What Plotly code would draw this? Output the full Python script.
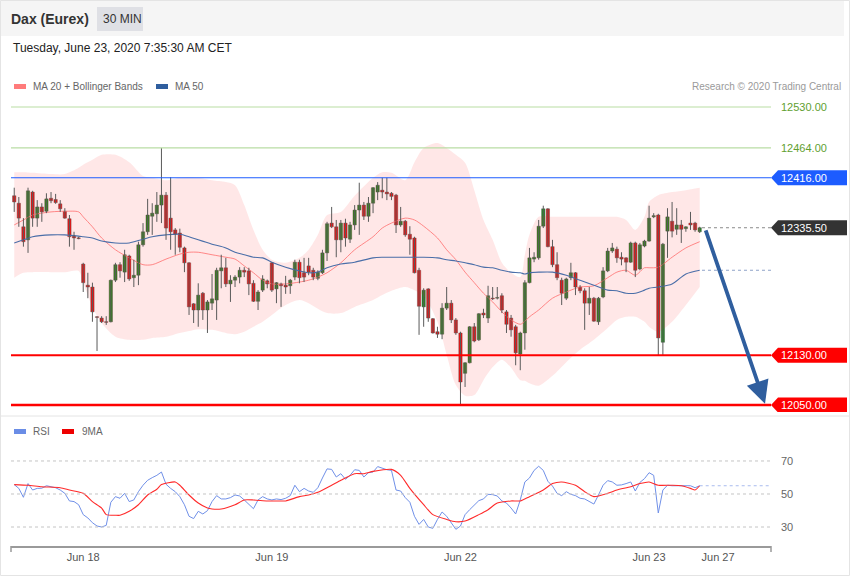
import plotly.graph_objects as go

W, H = 850, 576
FONT = "Liberation Sans, Arial, sans-serif"

# ---------------- data (30-min candles, Dax Eurex) ----------------
open_ = [12387, 12375, 12337, 12316, 12393, 12351, 12369, 12362, 12383, 12381,
         12374, 12362, 12350, 12322, 12319, 12277, 12243, 12240, 12192, 12190,
         12184, 12184, 12251, 12276, 12264, 12290, 12255, 12259, 12308, 12329,
         12354, 12358, 12372, 12388, 12351, 12332, 12327, 12303, 12279, 12213,
         12203, 12230, 12203, 12214, 12219, 12266, 12271, 12245, 12251, 12256,
         12267, 12266, 12246, 12217, 12235, 12250, 12279, 12237, 12245, 12243,
         12242, 12256, 12280, 12263, 12274, 12267, 12254, 12263, 12295, 12343,
         12337, 12316, 12343, 12317, 12340, 12364, 12372, 12354, 12375, 12393,
         12396, 12393, 12391, 12388, 12340, 12346, 12325, 12319, 12267, 12208,
         12237, 12189, 12168, 12164, 12206, 12214, 12187, 12166, 12101, 12118,
         12176, 12155, 12198, 12190, 12222, 12222, 12226, 12200, 12190, 12176,
         12132, 12166, 12247, 12285, 12287, 12338, 12366, 12305, 12276, 12251,
         12222, 12255, 12263, 12240, 12234, 12214, 12222, 12184, 12224, 12266,
         12298, 12301, 12288, 12287, 12280, 12311, 12269, 12306, 12314, 12353,
         12356, 12151, 12330, 12346, 12333, 12340, 12334, 12343, 12343, 12329]
high = [12400, 12385, 12351, 12400, 12395, 12380, 12375, 12391, 12393, 12390,
        12380, 12367, 12356, 12329, 12321, 12279, 12263, 12247, 12193, 12193,
        12193, 12252, 12279, 12280, 12300, 12292, 12284, 12313, 12343, 12382,
        12375, 12393, 12464, 12393, 12417, 12335, 12334, 12305, 12280, 12214,
        12246, 12232, 12219, 12261, 12271, 12292, 12287, 12259, 12259, 12272,
        12272, 12271, 12251, 12235, 12259, 12252, 12280, 12248, 12247, 12258,
        12253, 12284, 12284, 12287, 12287, 12271, 12267, 12300, 12345, 12369,
        12348, 12348, 12350, 12345, 12372, 12408, 12377, 12385, 12401, 12409,
        12416, 12416, 12393, 12390, 12369, 12348, 12338, 12321, 12271, 12238,
        12238, 12190, 12176, 12214, 12240, 12219, 12190, 12168, 12119, 12177,
        12182, 12198, 12205, 12242, 12240, 12240, 12230, 12203, 12195, 12179,
        12168, 12251, 12303, 12296, 12348, 12371, 12367, 12316, 12296, 12255,
        12255, 12279, 12264, 12243, 12238, 12240, 12224, 12224, 12272, 12303,
        12311, 12305, 12296, 12288, 12313, 12313, 12311, 12316, 12371, 12359,
        12358, 12311, 12367, 12377, 12367, 12348, 12338, 12361, 12345, 12337]
low = [12361, 12337, 12305, 12295, 12337, 12337, 12345, 12359, 12375, 12374,
       12361, 12350, 12305, 12300, 12317, 12232, 12222, 12184, 12137, 12182,
       12179, 12183, 12248, 12255, 12248, 12250, 12240, 12243, 12305, 12324,
       12324, 12345, 12343, 12316, 12300, 12292, 12296, 12264, 12195, 12182,
       12176, 12187, 12166, 12203, 12187, 12238, 12240, 12216, 12240, 12246,
       12256, 12227, 12216, 12203, 12232, 12238, 12232, 12214, 12208, 12229,
       12229, 12251, 12246, 12248, 12259, 12251, 12251, 12261, 12282, 12335,
       12288, 12296, 12305, 12311, 12332, 12324, 12348, 12345, 12359, 12380,
       12383, 12380, 12380, 12327, 12337, 12321, 12292, 12262, 12163, 12176,
       12184, 12165, 12158, 12156, 12203, 12182, 12163, 12050, 12079, 12117,
       12151, 12153, 12190, 12182, 12219, 12220, 12198, 12166, 12160, 12114,
       12106, 12139, 12246, 12280, 12284, 12335, 12304, 12272, 12251, 12211,
       12219, 12251, 12227, 12230, 12171, 12195, 12184, 12179, 12222, 12264,
       12295, 12279, 12275, 12264, 12279, 12256, 12267, 12304, 12313, 12351,
       12130, 12130, 12287, 12320, 12324, 12311, 12329, 12332, 12329, 12327]
close = [12377, 12351, 12313, 12395, 12351, 12369, 12361, 12382, 12379, 12376,
         12366, 12351, 12321, 12319, 12318, 12247, 12240, 12200, 12191, 12184,
         12183, 12251, 12276, 12266, 12292, 12253, 12259, 12308, 12329, 12356,
         12359, 12372, 12388, 12335, 12329, 12325, 12304, 12279, 12208, 12203,
         12227, 12203, 12216, 12221, 12267, 12271, 12245, 12251, 12256, 12267,
         12264, 12245, 12217, 12232, 12253, 12245, 12235, 12247, 12242, 12240,
         12251, 12280, 12255, 12256, 12264, 12256, 12264, 12295, 12342, 12337,
         12316, 12343, 12319, 12340, 12364, 12372, 12354, 12375, 12400, 12404,
         12393, 12390, 12386, 12340, 12346, 12324, 12317, 12263, 12209, 12235,
         12190, 12166, 12164, 12206, 12214, 12187, 12166, 12087, 12118, 12176,
         12153, 12197, 12195, 12226, 12221, 12223, 12203, 12180, 12171, 12134,
         12166, 12247, 12287, 12288, 12338, 12366, 12305, 12276, 12255, 12230,
         12253, 12263, 12240, 12234, 12214, 12222, 12185, 12222, 12266, 12298,
         12303, 12287, 12285, 12280, 12311, 12267, 12308, 12314, 12351, 12355,
         12158, 12309, 12353, 12330, 12340, 12333, 12337, 12340, 12332, 12335.5]

# Bollinger band (20) and moving averages read at sample candles
band_idx = [0, 2, 4, 8, 11, 14, 15, 17, 19, 22, 25, 28, 30, 33, 36, 38, 40, 43, 46, 48,
            50, 52, 54, 56, 59, 62, 64, 66, 68, 71, 74, 78, 80, 82, 85, 87, 89, 92, 94, 96,
            98, 100, 102, 104, 106, 108, 110, 111, 112, 114, 117, 120, 123, 126, 129, 131,
            133, 135, 137, 138, 140, 143, 146, 149]
bb_upper = [12425, 12425, 12424, 12422, 12422, 12432, 12437, 12445, 12453, 12453,
            12441, 12419, 12416, 12412, 12416, 12417, 12416, 12412, 12409, 12404,
            12372, 12332, 12300, 12284, 12279, 12287, 12300, 12324, 12356, 12361,
            12387, 12416, 12425, 12424, 12412, 12441, 12464, 12472, 12464, 12453,
            12440, 12396, 12348, 12316, 12279, 12263, 12256, 12292, 12324, 12353,
            12353, 12353, 12353, 12353, 12353, 12353, 12348, 12332, 12353, 12377,
            12388, 12393, 12396, 12400]
bb_lower = [12255, 12263, 12264, 12264, 12264, 12266, 12247, 12208, 12182, 12160,
            12155, 12155, 12158, 12160, 12166, 12169, 12172, 12171, 12166, 12164,
            12168, 12176, 12184, 12195, 12211, 12219, 12214, 12205, 12198, 12198,
            12208, 12219, 12227, 12234, 12240, 12235, 12226, 12184, 12131, 12082,
            12065, 12066, 12090, 12111, 12123, 12110, 12090, 12089, 12085, 12081,
            12097, 12119, 12139, 12155, 12174, 12187, 12192, 12192, 12184, 12176,
            12168, 12184, 12211, 12240]
ma20 = [12340, 12348, 12356, 12361, 12362, 12361, 12353, 12337, 12319, 12300,
        12287, 12276, 12276, 12285, 12293, 12296, 12296, 12292, 12288, 12285,
        12274, 12263, 12251, 12245, 12245, 12248, 12251, 12256, 12263, 12279,
        12300, 12321, 12335, 12343, 12351, 12348, 12338, 12319, 12300, 12284,
        12264, 12247, 12230, 12216, 12200, 12187, 12180, 12185, 12192, 12203,
        12222, 12232, 12240, 12242, 12255, 12264, 12267, 12259, 12271, 12271,
        12272, 12288, 12303, 12313]
ma50 = [12311, 12316, 12321, 12324, 12324, 12322, 12321, 12319, 12314, 12311,
        12311, 12317, 12321, 12324, 12325, 12321, 12316, 12309, 12303, 12296,
        12292, 12288, 12287, 12280, 12272, 12266, 12263, 12264, 12271, 12277,
        12280, 12287, 12288, 12288, 12288, 12288, 12288, 12287, 12284, 12282,
        12279, 12276, 12272, 12271, 12267, 12264, 12263, 12261, 12263, 12264,
        12264, 12259, 12251, 12243, 12235, 12234, 12230, 12230, 12235, 12238,
        12240, 12245, 12261, 12267]

# RSI (one value per candle) and its 9-period MA read at sample candles
rsi = [55.7, 53.4, 48.0, 56.3, 52.4, 53.4, 53.5, 55.0, 54.4, 53.8,
       52.4, 50.4, 45.8, 45.4, 43.5, 37.5, 35.5, 32.6, 30.6, 30.0,
       31.0, 45.0, 48.4, 47.4, 50.4, 45.4, 46.4, 51.4, 55.3, 58.3,
       59.9, 61.3, 63.3, 55.9, 53.4, 51.4, 48.4, 43.5, 36.5, 35.1,
       39.5, 37.9, 39.9, 45.4, 49.0, 47.0, 47.0, 47.8, 49.4, 48.8,
       46.4, 43.5, 41.1, 46.4, 48.4, 47.0, 46.4, 47.0, 46.6, 47.4,
       49.0, 55.3, 51.4, 53.4, 51.8, 51.0, 53.8, 59.7, 65.2, 64.9,
       60.3, 62.3, 58.9, 61.3, 64.7, 64.3, 60.3, 62.9, 63.3, 66.6,
       65.6, 64.7, 64.3, 52.4, 51.8, 47.8, 45.0, 36.5, 31.6, 34.6,
       30.0, 29.2, 34.6, 39.1, 36.5, 32.6, 28.6, 30.6, 37.5, 40.5,
       43.5, 46.0, 47.0, 49.8, 49.6, 48.8, 45.8, 44.5, 41.5, 37.9,
       46.4, 57.3, 59.7, 64.3, 66.8, 64.3, 57.7, 54.8, 50.4, 49.0,
       51.4, 49.8, 49.0, 47.4, 47.0, 45.4, 43.9, 49.4, 55.3, 58.1,
       57.3, 55.3, 55.5, 56.3, 57.3, 51.8, 57.0, 59.3, 62.9, 61.3,
       38.5, 52.4, 55.3, 55.0, 55.0, 55.0, 55.0, 55.0, 53.8, 55.0]
rsi_ma_idx = [0, 3, 6, 10, 12, 15, 17, 19, 20, 22, 23, 25, 27, 29, 31, 32, 35, 36, 38, 40,
              42, 43, 45, 48, 50, 52, 55, 57, 59, 62, 64, 66, 69, 71, 74, 76, 78, 82, 84, 86,
              89, 91, 94, 96, 98, 101, 103, 105, 108, 110, 112, 115, 117, 119, 122, 124, 126,
              129, 131, 134, 136, 138, 140, 143, 145, 147, 148, 149]
rsi_ma = [55.7, 55.3, 54.4, 53.8, 52.4, 50.4, 45.4, 41.5, 37.5, 37.1, 37.1, 39.5, 43.5,
          49.4, 52.9, 55.7, 57.3, 55.3, 49.4, 44.5, 41.5, 40.9, 40.9, 43.5, 46.4, 46.4,
          45.8, 45.8, 45.8, 48.4, 49.4, 51.0, 55.3, 58.3, 62.3, 62.3, 63.7, 64.9, 61.3,
          53.4, 43.5, 37.5, 34.6, 33.2, 33.6, 37.5, 40.5, 44.5, 45.8, 45.8, 48.4, 52.4,
          56.3, 57.3, 55.3, 51.4, 48.4, 50.4, 52.4, 54.4, 56.3, 57.3, 55.3, 55.3, 55.0,
          53.4, 52.4, 55.0]

date_ticks = [15, 56, 97, 138, 153]
date_labels = ["Jun 18", "Jun 19", "Jun 22", "Jun 23", "Jun 27"]

resist_levels = [12530.00, 12464.00]
pivot_level = 12416.00
last_price = 12335.50
support_levels = [12130.00, 12050.00]
target_price = 12050.00
rsi_levels = [70, 50, 30]

# ---------------- helpers (pixel -> paper) ----------------
def px(x):
    return x / W


def py(y):
    return 1 - y / H


X_RANGE = [-0.7, 164.5]
Y_RANGE = [12038.7, 12549.3]
RSI_RANGE = [18.5, 82.7]
PPU = (412 - 95) / (Y_RANGE[1] - Y_RANGE[0])  # pixels per price unit

n = len(close)
idx = list(range(n))

GREEN = "#1f8c1f"
RED = "#f01010"

fig = go.Figure()

# Bollinger band fill
fig.add_trace(go.Scatter(x=band_idx, y=bb_upper, mode="lines",
                         line=dict(width=0, shape="spline", smoothing=0.8, color="rgba(0,0,0,0)"),
                         hoverinfo="skip", showlegend=False))
fig.add_trace(go.Scatter(x=band_idx, y=bb_lower, mode="lines",
                         line=dict(width=0, shape="spline", smoothing=0.8, color="rgba(0,0,0,0)"),
                         fill="tonexty", fillcolor="rgba(255,40,40,0.11)",
                         hoverinfo="skip", showlegend=False))
# MA20 / MA50
fig.add_trace(go.Scatter(x=band_idx, y=ma20, mode="lines",
                         line=dict(width=1, color="rgba(255,110,110,0.8)", shape="spline", smoothing=0.8),
                         hoverinfo="skip", showlegend=False))
fig.add_trace(go.Scatter(x=band_idx, y=ma50, mode="lines",
                         line=dict(width=1.1, color="#4a6ea8", shape="spline", smoothing=0.8),
                         hoverinfo="skip", showlegend=False))

# wicks
wx, wy = [], []
for i in idx:
    wx += [i, i, None]
    wy += [low[i], high[i], None]
fig.add_trace(go.Scatter(x=wx, y=wy, mode="lines", line=dict(width=1, color="#5a5a5a"),
                         hoverinfo="skip", showlegend=False))

# bodies
body_base = [min(o, c) for o, c in zip(open_, close)]
body_h = [max(abs(c - o), 1.2) for o, c in zip(open_, close)]
body_col = [GREEN if c >= o else RED for o, c in zip(open_, close)]
fig.add_trace(go.Bar(x=idx, y=body_h, base=body_base, width=0.72,
                     marker=dict(color=body_col, line=dict(width=0.6, color="rgba(70,70,70,0.7)")),
                     hoverinfo="skip", showlegend=False))

# RSI panel
fig.add_trace(go.Scatter(x=idx, y=rsi, mode="lines", line=dict(width=1, color="#7090e8"),
                         xaxis="x2", yaxis="y2", hoverinfo="skip", showlegend=False))
fig.add_trace(go.Scatter(x=rsi_ma_idx, y=rsi_ma, mode="lines",
                         line=dict(width=1.1, color="#ff2a2a", shape="spline", smoothing=0.6),
                         xaxis="x2", yaxis="y2", hoverinfo="skip", showlegend=False))

shapes = []
annotations = []

# frame, header, separator
shapes.append(dict(type="rect", xref="paper", yref="paper", x0=0, x1=px(844), y0=py(36), y1=1,
                   fillcolor="#f5f5f5", line=dict(width=0), layer="below"))
shapes.append(dict(type="rect", xref="paper", yref="paper", x0=px(97), x1=px(143), y0=py(31), y1=py(7),
                   fillcolor="#dfe0e5", line=dict(width=0), layer="below"))
shapes.append(dict(type="rect", xref="paper", yref="paper", x0=px(0.5), x1=px(849.5), y0=py(575.5), y1=py(0.5),
                   fillcolor="rgba(0,0,0,0)", line=dict(width=1, color="#e4e4e4")))
shapes.append(dict(type="line", xref="paper", yref="paper", x0=0, x1=1, y0=py(416), y1=py(416),
                   line=dict(width=1, color="#e4e4e4")))

# level lines
for lv in resist_levels:
    shapes.append(dict(type="line", xref="paper", yref="y", x0=px(11), x1=px(771), y0=lv, y1=lv,
                       line=dict(width=1.2, color="#b9dda4")))
    annotations.append(dict(x=px(779), y=lv, xref="paper", yref="y", xanchor="left", yanchor="middle",
                            text=f"{lv:.2f}", showarrow=False, font=dict(size=11, color="#5fa030", family=FONT)))
shapes.append(dict(type="line", xref="paper", yref="y", x0=px(11), x1=px(771), y0=pivot_level, y1=pivot_level,
                   line=dict(width=1.2, color="#1d5cff")))
for lv, w in zip(support_levels, [2, 2.5]):
    shapes.append(dict(type="line", xref="paper", yref="y", x0=px(11), x1=px(771), y0=lv, y1=lv,
                       line=dict(width=w, color="#ff0000")))

# dotted extensions
shapes.append(dict(type="line", xref="x", yref="y", x0=n - 0.5, x1=X_RANGE[1], y0=last_price, y1=last_price,
                   line=dict(width=1, color="#8a8a8a", dash="dot")))
shapes.append(dict(type="line", xref="x", yref="y", x0=n - 0.5, x1=X_RANGE[1], y0=ma50[-1], y1=ma50[-1],
                   line=dict(width=1, color="#8ea2c8", dash="dot")))
shapes.append(dict(type="line", xref="x2", yref="y2", x0=n - 1, x1=X_RANGE[1], y0=rsi[-1], y1=rsi[-1],
                   line=dict(width=1, color="#a9bcef", dash="dot")))

# tags
half = 7.5 / PPU
def tag(level, color):
    x0, x1, x2 = px(771), px(778), px(847)
    path = (f"M {x0},{level} L {x1},{level + half} L {x2},{level + half} "
            f"L {x2},{level - half} L {x1},{level - half} Z")
    shapes.append(dict(type="path", xref="paper", yref="y", path=path, fillcolor=color,
                       line=dict(width=0)))
    annotations.append(dict(x=px(779), y=level, xref="paper", yref="y", xanchor="left", yanchor="middle",
                            text=f"{level:.2f}", showarrow=False, font=dict(size=11, color="white", family=FONT)))

tag(pivot_level, "#1d5cff")
tag(last_price, "#333333")
for lv in support_levels:
    tag(lv, "#ff0000")

# forecast arrow
annotations.append(dict(x=n - 1 + 14.2, y=target_price + 2, ax=n - 1 + 1.2, ay=last_price - 2,
                        xref="x", yref="y", axref="x", ayref="y", text="", showarrow=True,
                        arrowhead=2, arrowsize=1.2, arrowwidth=3.8, arrowcolor="#2f5e9e"))

# RSI level lines + labels
for lv in rsi_levels:
    shapes.append(dict(type="line", xref="paper", yref="y2", x0=px(11), x1=px(771), y0=lv, y1=lv,
                       line=dict(width=1, color="#c4c4c4", dash="dot")))
    annotations.append(dict(x=px(779), y=lv, xref="paper", yref="y2", xanchor="left", yanchor="middle",
                            text=str(lv), showarrow=False, font=dict(size=11, color="#666", family=FONT)))

# axis end brackets
for xx in (11, 771):
    shapes.append(dict(type="line", xref="paper", yref="paper", x0=px(xx), x1=px(xx), y0=py(546), y1=py(552),
                       line=dict(width=1.5, color="#9a9a9a")))

# legends
def swatch(x0, y, color):
    shapes.append(dict(type="rect", xref="paper", yref="paper", x0=px(x0), x1=px(x0 + 12),
                       y0=py(y + 2.5), y1=py(y - 2.5), fillcolor=color, line=dict(width=0)))

def text(x, y, s, size=10, color="#666", anchor="left", bold=False):
    if bold:
        s = f"<b>{s}</b>"
    annotations.append(dict(x=px(x), y=py(y), xref="paper", yref="paper", xanchor=anchor, yanchor="middle",
                            text=s, showarrow=False, font=dict(size=size, color=color, family=FONT)))

swatch(14, 86.5, "#ff7b7b")
text(31, 86.5, "MA 20 + Bollinger Bands")
swatch(156, 86.5, "#2f5e9e")
text(173, 86.5, "MA 50")
text(843, 86.5, "Research © 2020 Trading Central", color="#9a9a9a", anchor="right")

swatch(14, 431.5, "#6a8de6")
text(31, 431.5, "RSI")
swatch(62, 431.5, "#ee0000")
text(80, 431.5, "9MA")

text(9, 18.5, "Dax (Eurex)", size=14, color="#333", bold=True)
text(101, 18.5, "30 MIN", size=12, color="#333")
text(11, 48.5, "Tuesday, June 23, 2020 7:35:30 AM CET", size=12, color="#222")

fig.update_layout(
    width=W, height=H,
    margin=dict(l=0, r=0, t=0, b=0),
    paper_bgcolor="white", plot_bgcolor="rgba(0,0,0,0)",
    showlegend=False, barmode="overlay",
    font=dict(family=FONT),
    xaxis=dict(domain=[px(11), px(771)], range=X_RANGE, anchor="y", showticklabels=False,
               showgrid=False, zeroline=False, showline=False, fixedrange=True),
    yaxis=dict(domain=[py(412), py(95)], range=Y_RANGE, anchor="x", showticklabels=False,
               showgrid=False, zeroline=False, showline=False, fixedrange=True),
    xaxis2=dict(domain=[px(11), px(771)], range=X_RANGE, anchor="y2", tickvals=date_ticks,
                ticktext=date_labels, ticks="", showline=True, linecolor="#9a9a9a", linewidth=2,
                tickfont=dict(size=11, color="#555", family=FONT), showgrid=False, zeroline=False,
                fixedrange=True),
    yaxis2=dict(domain=[py(546), py(440)], range=RSI_RANGE, anchor="x2", showticklabels=False,
                showgrid=False, zeroline=False, showline=False, fixedrange=True),
    shapes=shapes,
    annotations=annotations,
    hovermode=False,
)

fig.write_html("out.html", config={"displayModeBar": False},
               post_script="document.body.style.margin='0px';document.body.style.overflow='hidden';")
